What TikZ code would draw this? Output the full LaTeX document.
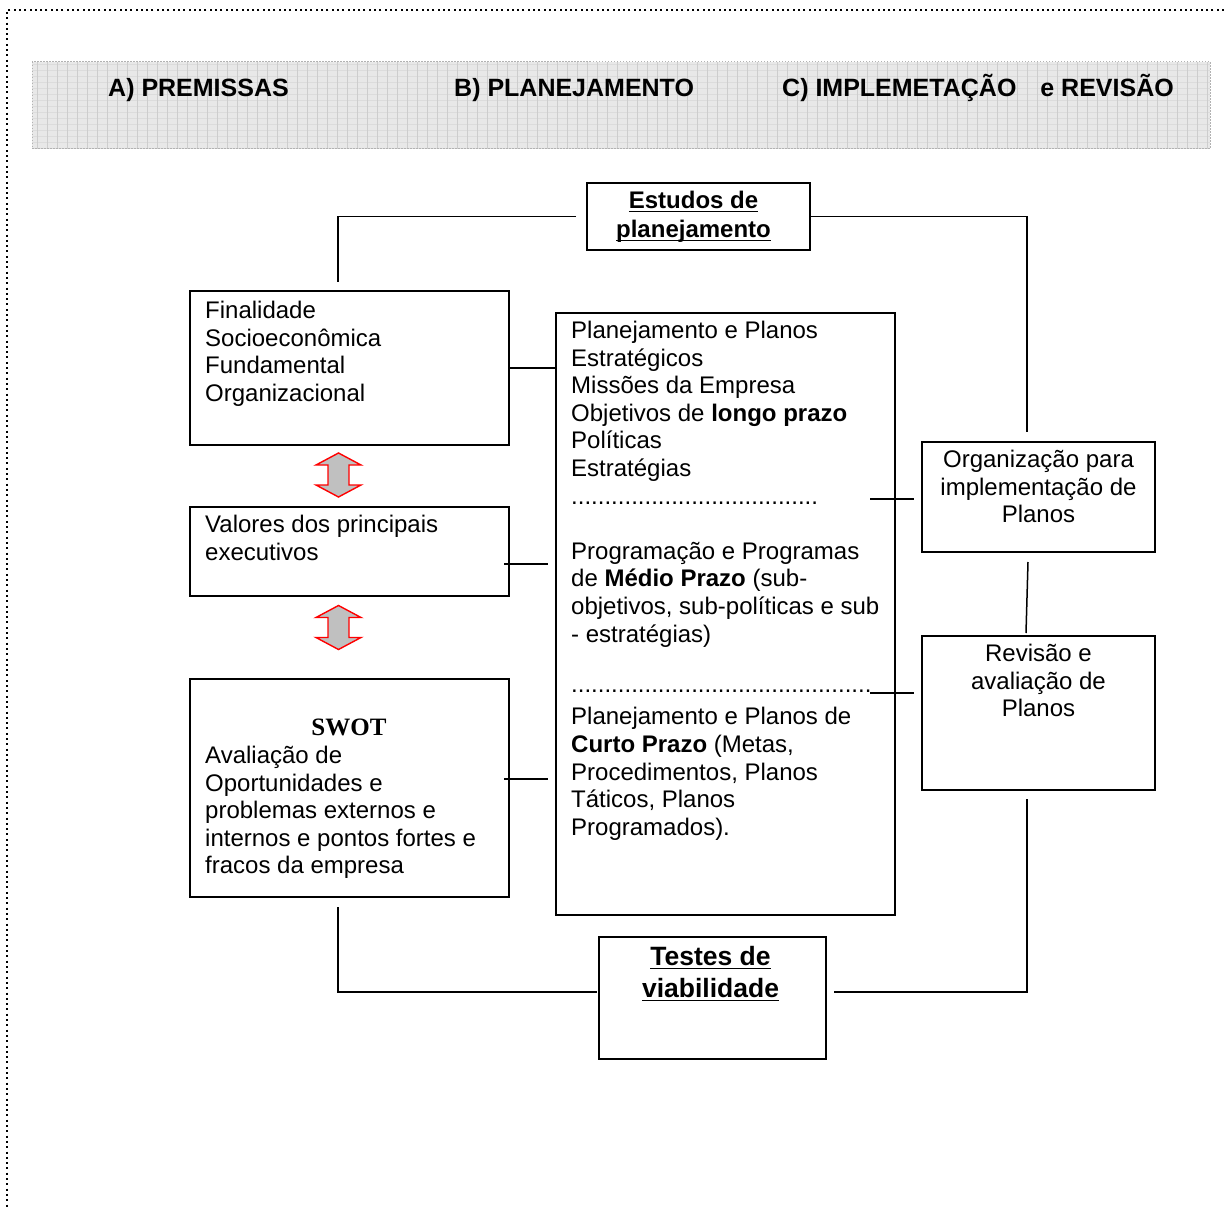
\documentclass[tikz,border=0pt]{standalone}
\usepackage{fontspec}
\setmainfont{Liberation Sans}
\newfontfamily\swotfont{Liberation Serif}
\usetikzlibrary{calc}
% underline drawn at a fixed depth below the baseline
\newcommand\ulword[1]{\leavevmode\setbox0=\hbox{#1}\rlap{\rule[-3.5pt]{\wd0}{1.6pt}}\box0}
\definecolor{bandfill}{RGB}{232,232,232}
\definecolor{bandgrid}{RGB}{205,205,205}
\definecolor{bandgridh}{RGB}{220,220,220}
\definecolor{arrowfill}{RGB}{192,192,192}

\begin{document}
\begin{tikzpicture}[x=1pt,y=-1pt,
  box/.style={draw, line width=1.6pt, inner sep=0, outer sep=0},
  conn/.style={line width=1.5pt},
  body/.style={font=\fontsize{24}{27.6}\selectfont, inner sep=0, align=left, anchor=north west},
  bodyc/.style={font=\fontsize{24}{27.6}\selectfont, inner sep=0, align=center, anchor=north},
  head/.style={font=\fontsize{25}{30}\selectfont\bfseries, inner sep=0, anchor=base west},
  biarrow/.pic={\draw[red, line width=1.4pt, fill=arrowfill, line join=miter]
     (0,-22) -- (22.5,-10) -- (10.5,-10) -- (10.5,10) -- (22.5,10) -- (0,22)
     -- (-22.5,10) -- (-10.5,10) -- (-10.5,-10) -- (-22.5,-10) -- cycle;}
]
\useasboundingbox (0,0) rectangle (1224,1209);

% dotted page frame
\draw[line width=2pt, dash pattern=on 2pt off 3.3pt] (1224,10) -- (7,10) -- (7,1209);

% header band with its grid texture
\begin{scope}
  \clip (32,62) rectangle (1210,149);
  \fill[bandfill] (32,62) rectangle (1210,149);
  \foreach \yy in {64,70,...,148} \draw[bandgridh, line width=0.7pt] (32,\yy) -- (1210,\yy);
  \foreach \xx in {37,47,...,1210} \draw[bandgrid, line width=0.8pt] (\xx,62) -- (\xx,149);
\end{scope}
\draw[gray!60, line width=1pt, dash pattern=on 1.5pt off 1.5pt] (32,62) rectangle (1210,149);

\node[head] (hA) at (108,97) {A) PREMISSAS};
\node[head] (hB) at (454,97) {B) PLANEJAMENTO};
\node[head] (hC) at (782,97) {C) IMPLEMETAÇÃO\hspace{17pt} e REVISÃO};

% boxes
\node[box, minimum width=223, minimum height=67]  (est) at (698.5,216.5) {};
\node[box, minimum width=319, minimum height=154] (fin) at (349.5,368) {};
\node[box, minimum width=319, minimum height=89]  (val) at (349.5,551.5) {};
\node[box, minimum width=319, minimum height=218] (swot) at (349.5,788) {};
\node[box, minimum width=339, minimum height=602] (mid) at (725.5,614) {};
\node[box, minimum width=233, minimum height=110] (org) at (1038.5,497) {};
\node[box, minimum width=233, minimum height=154] (rev) at (1038.5,713) {};
\node[box, minimum width=227, minimum height=122] (tst) at (712.5,998) {};

% box texts
\node[font=\fontsize{24}{29}\selectfont\bfseries, inner sep=0, align=center, anchor=north]
  (estT) at (693.5,188.5) {\strut\ulword{Estudos de}\\\ulword{planejamento}};
\node[body] (finT) at (205,299) {\strut Finalidade\\Socioeconômica\\Fundamental\\Organizacional};
\node[body] (valT) at (205,513) {\strut Valores dos principais\\executivos};
\node[font=\fontsize{25}{30}\selectfont\swotfont\bfseries, inner sep=0, anchor=base]
  (swotH) at (349,735.5) {SWOT};
\node[body] (swotT) at (205,744) {\strut Avaliação de\\Oportunidades e\\problemas externos e\\internos e pontos fortes e\\fracos da empresa};
\node[body] (midT) at (571,319) {\strut Planejamento e Planos\\
  Estratégicos\\
  Missões da Empresa\\
  Objetivos de \textbf{longo prazo}\\
  Políticas\\
  Estratégias\\
  .....................................\\
  \strut\\
  Programação e Programas\\
  de \textbf{Médio Prazo} (sub-\\
  objetivos, sub-políticas e sub\\
  - estratégias)\\
  \strut\\[-5pt]
  .............................................\\[5pt]
  Planejamento e Planos de\\
  \textbf{Curto Prazo} (Metas,\\
  Procedimentos, Planos\\
  Táticos, Planos\\
  Programados).};
\node[bodyc] (orgT) at (1038.5,448) {\strut Organização para\\implementação de\\Planos};
\node[bodyc] (revT) at (1038.5,642) {\strut Revisão e\\avaliação de\\Planos};
\node[font=\fontsize{26.5}{32}\selectfont\bfseries, inner sep=0, align=center, anchor=north]
  (tstT) at (710.5,943) {\strut\ulword{Testes de}\\\ulword{viabilidade}};

% red double arrows between the premise boxes
\pic (arr1) at (338.5,475) {biarrow};
\pic (arr2) at (338.5,627.5) {biarrow};

% connectors
\draw[conn] ([shift={(-11,0)}]est.west) -| ([shift={(-11.5,-9)}]fin.north);
\draw[conn] (est.east) -| ([shift={(-11.5,-10)}]org.north);
\draw[conn] (fin.east) -- (fin.east -| mid.west);
\coordinate (v1) at ([shift={(-5,12.5)}]val.east);
\draw[conn, shorten >=8pt] (v1) -- (v1 -| mid.west);
\coordinate (s1) at ([shift={(-5,-9)}]swot.east);
\draw[conn, shorten >=8pt] (s1) -- (s1 -| mid.west);
\coordinate (o1) at ([shift={(-8,2)}]org.west);
\draw[conn, shorten <=-25pt] (o1 -| mid.east) -- (o1);
\coordinate (r1) at ([shift={(-8,-20)}]rev.west);
\draw[conn, shorten <=-25pt] (r1 -| mid.east) -- (r1);
\draw[conn] ([shift={(-10.5,10)}]org.south) -- ([shift={(-12.5,-3)}]rev.north);
\draw[conn] ([shift={(-11.5,9)}]rev.south) |- ([shift={(8,-6)}]tst.east);
\draw[conn] ([shift={(-11.5,10)}]swot.south) |- ([shift={(-2,-6)}]tst.west);
\end{tikzpicture}
\end{document}
